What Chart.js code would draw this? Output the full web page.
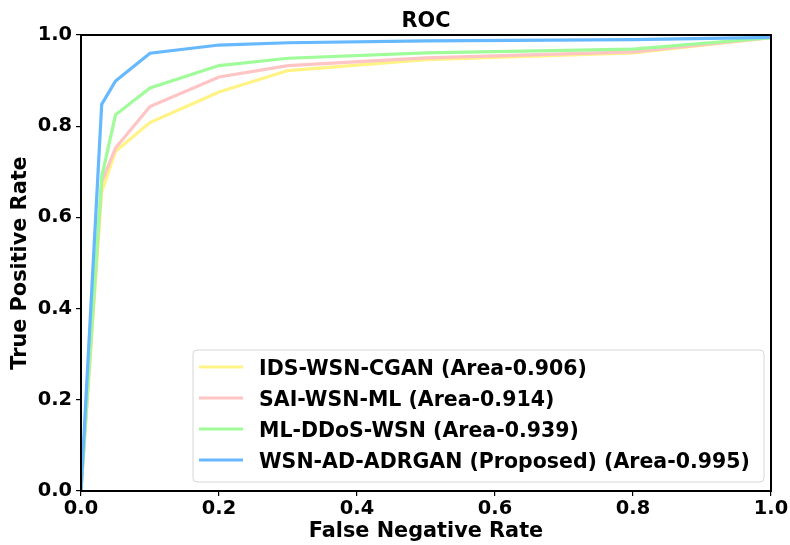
<!DOCTYPE html>
<html>
<head>
<meta charset="utf-8">
<script src="https://cdn.jsdelivr.net/npm/chart.js@4/dist/chart.umd.min.js"></script>
<style>
html,body{margin:0;padding:0;background:#fff;}
#wrap{width:790px;height:545px;position:relative;}
</style>
</head>
<body>
<div id="wrap"><canvas id="c" width="790" height="545"></canvas></div>
<script>
const chartTitle = "ROC";
const xTitle = "False Negative Rate";
const yTitle = "True Positive Rate";
const fpr = [0, 0.03, 0.05, 0.1, 0.2, 0.3, 0.5, 0.8, 1.0];
const seriesNames = [
  "IDS-WSN-CGAN (Area-0.906)",
  "SAI-WSN-ML (Area-0.914)",
  "ML-DDoS-WSN (Area-0.939)",
  "WSN-AD-ADRGAN (Proposed) (Area-0.995)"
];
const tprCGAN   = [0, 0.656, 0.745, 0.808, 0.875, 0.922, 0.946, 0.961, 0.994];
const tprSAI    = [0, 0.678, 0.752, 0.843, 0.908, 0.933, 0.950, 0.963, 0.994];
const tprDDoS   = [0, 0.689, 0.825, 0.884, 0.933, 0.949, 0.961, 0.969, 0.994];
const tprADRGAN = [0, 0.848, 0.899, 0.960, 0.978, 0.983, 0.987, 0.990, 0.995];
const tickValues = [0, 0.2, 0.4, 0.6, 0.8, 1.0];
const colors = ["#fff385", "#ffc4c4", "#9ffc99", "#66b8ff"];

const allSeries = [tprCGAN, tprSAI, tprDDoS, tprADRGAN];
const FONT = "'DejaVu Sans', sans-serif";

const datasets = allSeries.map((s, i) => ({
  label: seriesNames[i],
  data: fpr.map((x, j) => ({x: x, y: s[j]})),
  borderColor: colors[i],
  backgroundColor: colors[i],
  borderWidth: 3.2,
  pointRadius: 0,
  showLine: true,
  tension: 0,
  fill: false,
  order: allSeries.length - i
}));

const framePlugin = {
  id: 'frame',
  afterDatasetsDraw(chart) {
    const {ctx, chartArea: a} = chart;
    ctx.save();
    ctx.strokeStyle = '#000';
    ctx.lineWidth = 2;
    ctx.strokeRect(a.left, a.top, a.right - a.left, a.bottom - a.top);
    ctx.restore();
  },
  afterDraw(chart) {
    const {ctx, chartArea: a} = chart;
    ctx.save();
    ctx.fillStyle = '#000';
    ctx.font = "bold 20.8px " + FONT;
    ctx.textAlign = 'center';
    ctx.textBaseline = 'alphabetic';
    ctx.fillText(chartTitle, (a.left + a.right) / 2, 27);
    const bx = 193, by = 350, bw = 571, bh = 132, r = 4;
    ctx.beginPath();
    ctx.moveTo(bx + r, by);
    ctx.arcTo(bx + bw, by, bx + bw, by + bh, r);
    ctx.arcTo(bx + bw, by + bh, bx, by + bh, r);
    ctx.arcTo(bx, by + bh, bx, by, r);
    ctx.arcTo(bx, by, bx + bw, by, r);
    ctx.closePath();
    ctx.fillStyle = 'rgba(255,255,255,0.8)';
    ctx.fill();
    ctx.strokeStyle = '#d6d6d6';
    ctx.lineWidth = 1;
    ctx.stroke();
    ctx.font = "bold 20.5px " + FONT;
    ctx.textAlign = 'left';
    ctx.textBaseline = 'alphabetic';
    chart.data.datasets.forEach((ds, i) => {
      const cy = 367 + i * 31;
      ctx.strokeStyle = ds.borderColor;
      ctx.lineWidth = 3;
      ctx.beginPath();
      ctx.moveTo(199, cy);
      ctx.lineTo(243, cy);
      ctx.stroke();
      ctx.fillStyle = '#000';
      ctx.fillText(ds.label, 259, cy + 7.5);
    });
    ctx.restore();
  }
};

const axisCommon = {
  type: 'linear',
  min: 0,
  max: 1,
  border: {display: false},
  grid: {display: true, drawOnChartArea: false, drawTicks: true, tickLength: 5, color: '#000', lineWidth: 1.2},
  afterBuildTicks(scale) { scale.ticks = tickValues.map(v => ({value: v})); },
};

new Chart(document.getElementById('c'), {
  type: 'scatter',
  data: {datasets},
  plugins: [framePlugin],
  options: {
    responsive: false,
    animation: false,
    devicePixelRatio: 1,
    layout: {padding: {top: 35, right: 19, left: 0, bottom: 0}},
    plugins: {legend: {display: false}, title: {display: false}, tooltip: {enabled: false}},
    scales: {
      x: Object.assign({}, axisCommon, {
        position: 'bottom',
        ticks: {color: '#000', font: {family: FONT, size: 19.4, weight: 'bold'}, padding: 1, maxRotation: 0,
          callback: v => Number(v).toFixed(1)},
        title: {display: true, text: xTitle, color: '#000', font: {family: FONT, size: 20.8, weight: 'bold'}, padding: {top: 0, bottom: 1}},
        afterFit(scale) { scale.height = 54; }
      }),
      y: Object.assign({}, axisCommon, {
        position: 'left',
        ticks: {color: '#000', font: {family: FONT, size: 19.4, weight: 'bold'}, padding: 4,
          callback: v => Number(v).toFixed(1)},
        title: {display: true, text: yTitle, color: '#000', font: {family: FONT, size: 20.8, weight: 'bold'}, padding: {top: 8, bottom: 0}},
        afterFit(scale) { scale.width = 81; }
      })
    }
  }
});
</script>
</body>
</html>
